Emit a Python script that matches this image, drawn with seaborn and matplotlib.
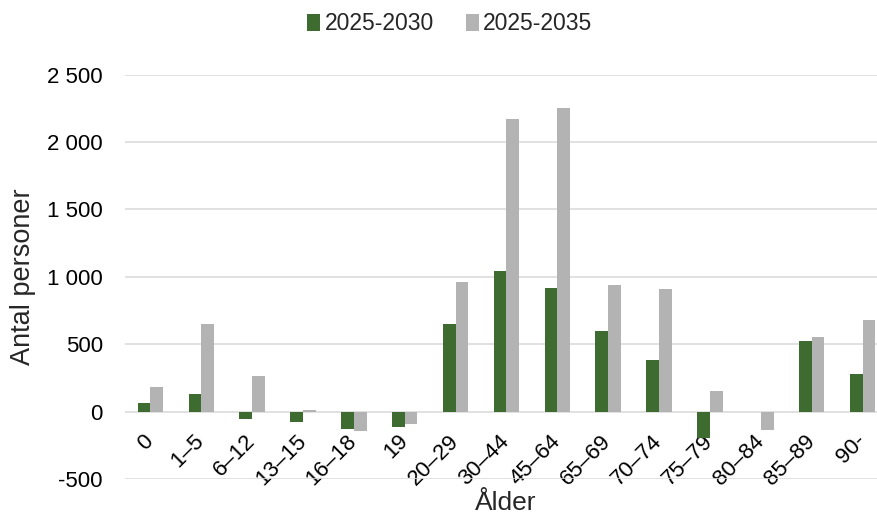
import pandas as pd
import matplotlib.pyplot as plt
import seaborn as sns
from matplotlib.ticker import FuncFormatter

# Data
ages = ['0', '1–5', '6–12', '13–15', '16–18', '19', '20–29', '30–44',
        '45–64', '65–69', '70–74', '75–79', '80–84', '85–89', '90-']
change_2030 = [65, 130, -55, -75, -130, -115, 650, 1040, 920, 595, 380, -200, 0, 520, 280]
change_2035 = [180, 650, 260, 10, -145, -95, 960, 2170, 2250, 940, 910, 150, -140, 550, 680]
series = ['2025-2030', '2025-2035']
colors = ['#3e6b2f', '#b3b3b3']

df = pd.DataFrame({
    'Ålder': ages * 2,
    'Antal': change_2030 + change_2035,
    'Period': [series[0]] * len(ages) + [series[1]] * len(ages),
})

sns.set_style('white')
plt.rcParams['font.family'] = ['Liberation Sans', 'DejaVu Sans']

fig, ax = plt.subplots(figsize=(8.77, 5.16), dpi=100)
# plot area runs a little past the right edge, like the cropped original
fig.subplots_adjust(left=0.1425, right=1.0125, top=0.855, bottom=0.072)

sns.barplot(data=df, x='Ålder', y='Antal', hue='Period', palette=colors,
            width=0.5, ax=ax, saturation=1, linewidth=0, legend=True)

ax.set_ylim(-500, 2500)
ax.set_xlim(-0.5, len(ages) - 0.5)
ax.set_yticks(range(-500, 2501, 500))
ax.yaxis.set_major_formatter(FuncFormatter(lambda v, p: f'{int(v):,}'.replace(',', ' ')))
ax.grid(axis='y', color='#d9d9d9', linewidth=1.1)
ax.set_axisbelow(True)
for s in ax.spines.values():
    s.set_visible(False)
# category labels sit just under the zero line
ax.spines['bottom'].set_position(('data', 0))

ax.tick_params(axis='both', length=0, labelsize=16, colors='black')
ax.tick_params(axis='y', pad=16)
ax.tick_params(axis='x', pad=19)
plt.setp(ax.get_xticklabels(), rotation=45, ha='right', va='center',
         rotation_mode='anchor')

ax.set_xlabel('')
ax.set_ylabel('')
fig.text(506 / 877, 1 - 503 / 516, 'Ålder', fontsize=19, ha='center', va='center')
fig.text(23 / 877, 1 - 277 / 516, 'Antal personer', fontsize=19.5, rotation=90,
         ha='center', va='center')

handles, labels = ax.get_legend_handles_labels()
ax.get_legend().remove()
fig.legend(handles, labels, loc='center', bbox_to_anchor=(0.513, 1 - 24 / 516),
           ncol=2, frameon=False, fontsize=16.5, handlelength=0.55,
           handleheight=0.75, handletextpad=0.2, columnspacing=1.4)

plt.savefig('out.png', dpi=100)
plt.close()
